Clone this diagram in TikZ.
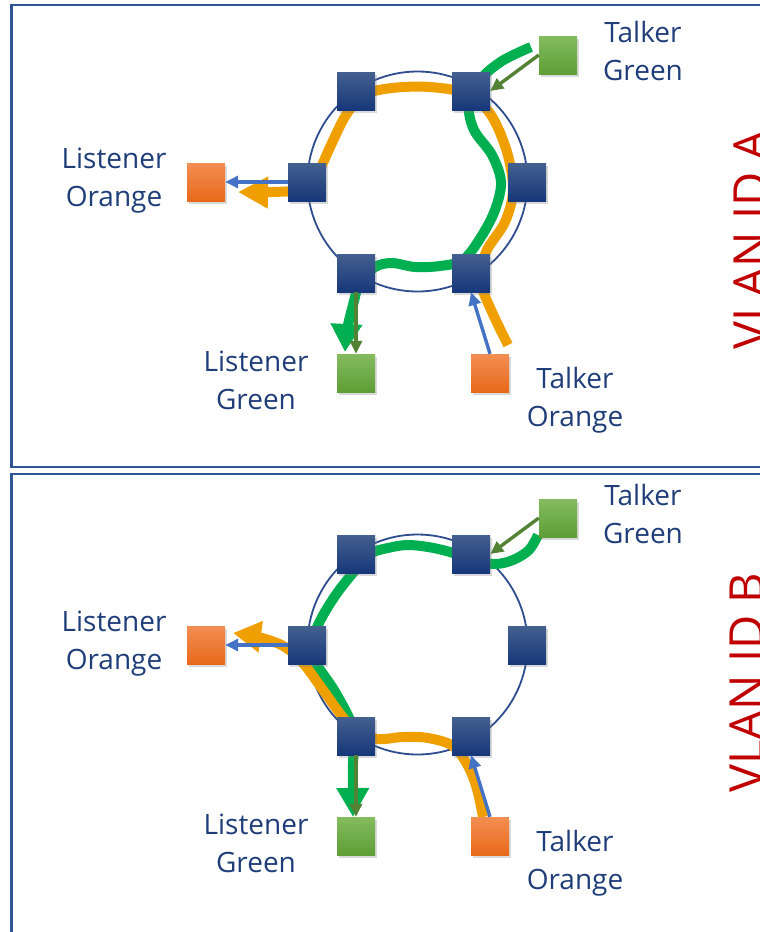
\documentclass[tikz,border=0pt]{standalone}
\usepackage{fontspec}
\setmainfont{Open Sans}
\usetikzlibrary{arrows.meta,shadows}

\definecolor{frameblue}{HTML}{2F5597}
\definecolor{ringblue}{HTML}{2E4D8E}
\definecolor{textblue}{HTML}{1F3E79}
\definecolor{vlanred}{HTML}{C00000}
\definecolor{bandorange}{HTML}{EFA000}
\definecolor{bandgreen}{HTML}{00B050}
\definecolor{thingreen}{HTML}{548235}
\definecolor{thinblue}{HTML}{4472C4}
\definecolor{swtop}{HTML}{44608F}
\definecolor{swbot}{HTML}{16377A}
\definecolor{gtop}{HTML}{84BB5F}
\definecolor{gbot}{HTML}{5E9E35}
\definecolor{otop}{HTML}{F28E52}
\definecolor{obot}{HTML}{E9691B}

\begin{document}
\begin{tikzpicture}[x=1pt,y=-1pt,
  sq/.style={rectangle, minimum size=38pt, inner sep=0pt, draw=none,
    drop shadow={opacity=0.3, shadow xshift=2pt, shadow yshift=-3pt}},
  switch/.style={sq, top color=swtop, bottom color=swbot},
  greensq/.style={sq, top color=gtop, bottom color=gbot},
  orangesq/.style={sq, top color=otop, bottom color=obot},
  frame/.style={draw=frameblue, line width=2.5pt},
  ring/.style={draw=ringblue, line width=1.8pt},
  band/.style={line width=10pt, line cap=butt, line join=round},
  thin/.style={line width=3.4pt, -{Triangle[length=13pt,width=12pt]}},
  lbl/.style={text=textblue, align=center, font=\fontsize{28}{38}\selectfont},
  vlan/.style={text=vlanred, rotate=90, anchor=base, font=\fontsize{47}{50}\selectfont}]

\useasboundingbox (0,0) rectangle (760,932);
\clip (0,0) rectangle (760,932);

% panel frames
\draw[frame] (11.5,5) rectangle (800,467);
\draw[frame] (11.5,474) rectangle (800,980);

% ---------------- VLAN A ----------------
\begin{scope}
  \draw[ring] (417.5,181.5) circle[radius=110pt];
  % stream paths
  \draw[band, bandorange, -{Triangle[length=30pt,width=30pt]}]
    plot[smooth, tension=0.55] coordinates {(508,345) (492,312) (481,282) (486,252) (505,222)
      (513,190) (507,152) (491,115) (468,94) (430,87) (392,88) (364,95) (346,115)
      (331,145) (318,172) (300,189) (272,192) (238,192)};
  \draw[band, bandgreen, -{Triangle[length=28pt,width=30pt]}]
    plot[smooth, tension=0.55] coordinates {(531,47) (502,61) (480,80) (469,105) (474,130)
      (492,155) (501,182) (495,210) (481,237) (463,260) (440,266) (415,267) (392,263)
      (375,267) (360,282) (353,305) (347,330) (345,352)};
  % bridges
  \node[switch] (a1) at (356,91) {};
  \node[switch] (a2) at (471,91) {};
  \node[switch] (a3) at (307,182) {};
  \node[switch] (a4) at (527,182) {};
  \node[switch] (a5) at (356,273) {};
  \node[switch] (a6) at (471,273) {};
  % end stations
  \node[greensq] (atg) at (558,55) {};
  \node[orangesq] (alo) at (206,182) {};
  \node[greensq] (alg) at (356,373) {};
  \node[orangesq] (ato) at (490,373) {};
  % attachments
  \draw[thin, thingreen] (atg.west) -- (a2.east);
  \draw[thin, thinblue] (a3.west) -- (alo.east);
  \draw[thin, thingreen] (a5.south) -- (alg.north);
  \draw[thin, thinblue] (ato.north) -- (a6.south);
  % labels
  \node[lbl] at (643,51) {Talker\\Green};
  \node[lbl] at (114,180.5) {Listener\\Orange};
  \node[lbl] at (256,380.5) {Listener\\Green};
  \node[lbl] at (575,400.5) {Talker\\Orange};
\end{scope}

% ---------------- VLAN B ----------------
\begin{scope}[yshift=-463pt]
  \draw[ring] (417.5,181.5) circle[radius=110pt];
  % stream paths
  \draw[band, bandgreen, -{Triangle[length=29pt,width=31pt]}]
    plot[smooth, tension=0.55] coordinates {(538,72) (529,87) (513,97) (495,101) (472,97)
      (450,89) (428,84) (407,82) (388,85) (370,91) (352,111) (335,133) (320,158)
      (311,182) (316,200) (334,227) (350,257) (355,278) (353,300) (353,354)};
  \draw[band, bandorange, -{Triangle[length=28pt,width=30pt]}]
    plot[smooth, tension=0.55] coordinates {(483,354) (477,326) (468,303) (453,283) (428,275)
      (403,274) (378,276) (358,268) (345,257) (323,227) (303,200) (285,184) (262,175)
      (233,170)};
  % bridges
  \node[switch] (b1) at (356,91) {};
  \node[switch] (b2) at (471,91) {};
  \node[switch] (b3) at (307,182) {};
  \node[switch] (b4) at (527,182) {};
  \node[switch] (b5) at (356,273) {};
  \node[switch] (b6) at (471,273) {};
  % end stations
  \node[greensq] (btg) at (558,55) {};
  \node[orangesq] (blo) at (206,182) {};
  \node[greensq] (blg) at (356,373) {};
  \node[orangesq] (bto) at (490,373) {};
  % attachments
  \draw[thin, thingreen] (btg.west) -- (b2.east);
  \draw[thin, thinblue] (b3.west) -- (blo.east);
  \draw[thin, thingreen] (b5.south) -- (blg.north);
  \draw[thin, thinblue] (bto.north) -- (b6.south);
  % labels
  \node[lbl] at (643,50.5) {Talker\\Green};
  \node[lbl] at (114,180.5) {Listener\\Orange};
  \node[lbl] at (256,380.5) {Listener\\Green};
  \node[lbl] at (575,400) {Talker\\Orange};
\end{scope}

% VLAN captions along the right edge
\node[vlan] (vla) at (767,240) {VLAN ID A};
\node[vlan] (vlb) at (763,682.5) {VLAN ID B};
\end{tikzpicture}
\end{document}
